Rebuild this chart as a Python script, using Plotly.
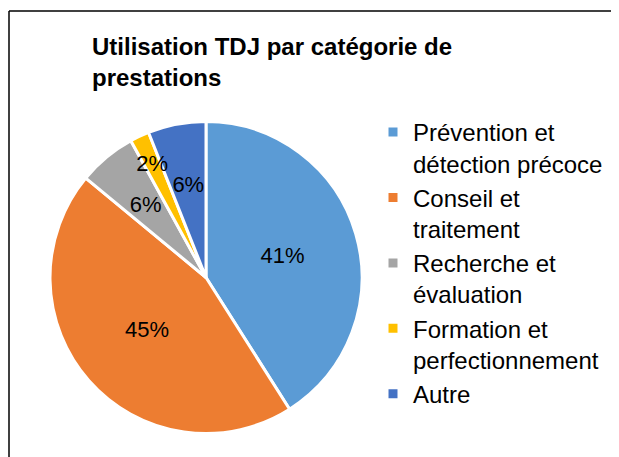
import plotly.graph_objects as go

categories = [
    "Prévention et<br>détection précoce",
    "Conseil et<br>traitement",
    "Recherche et<br>évaluation",
    "Formation et<br>perfectionnement",
    "Autre",
]
shares = [41, 45, 6, 2, 6]
colors = ["#5B9BD5", "#ED7D31", "#A5A5A5", "#FFC000", "#4472C4"]

# page body has an 8px margin, so the figure is drawn 8px smaller
W, H = 611, 449
font_family = "Liberation Sans"

# pie centre / radius in px
cx, cy, R = 198, 269.5, 156
# how far in the % label of each slice sits (radius of the helper pie)
label_scale = [1, 1, 0.72, 0.86, 0.72]


def dom(k):
    r = R * k
    return dict(x=[(cx - r) / W, (cx + r) / W], y=[1 - (cy + r) / H, 1 - (cy - r) / H])


fig = go.Figure()

fig.add_trace(go.Pie(
    labels=categories,
    values=shares,
    sort=False,
    direction="clockwise",
    rotation=0,
    marker=dict(colors=colors, line=dict(color="white", width=3)),
    texttemplate=["%{percent}" if k == 1 else "" for k in label_scale],
    textposition="inside",
    insidetextorientation="horizontal",
    textfont=dict(family=font_family, size=22, color="black"),
    domain=dom(1),
    hoverinfo="label+percent",
))

# transparent copies, only used to place the small-slice labels closer to the centre
for k in sorted(set(label_scale) - {1}):
    fig.add_trace(go.Pie(
        labels=categories,
        values=shares,
        sort=False,
        direction="clockwise",
        rotation=0,
        marker=dict(colors=["rgba(0,0,0,0)"] * len(shares), line=dict(width=0)),
        texttemplate=["%{percent}" if s == k else "" for s in label_scale],
        textposition="inside",
        insidetextorientation="horizontal",
        textfont=dict(family=font_family, size=22, color="black"),
        domain=dom(k),
        hoverinfo="skip",
        showlegend=False,
    ))

fig.update_layout(
    width=W,
    height=H,
    margin=dict(l=0, r=0, t=0, b=0),
    paper_bgcolor="white",
    font=dict(family=font_family, color="black"),
    uniformtext=dict(minsize=22, mode="show"),
    title=dict(
        text="<b>Utilisation TDJ par catégorie de<br>prestations</b>",
        font=dict(family=font_family, size=24, color="black"),
        x=84 / W,
        xanchor="left",
        xref="paper",
        y=1 - 47 / H,
        yanchor="top",
        yref="paper",
    ),
    legend=dict(
        x=365 / W,
        xanchor="left",
        y=1 - 102 / H,
        yanchor="top",
        valign="top",
        font=dict(family=font_family, size=24, color="black"),
        bgcolor="rgba(0,0,0,0)",
    ),
    shapes=[
        # chart frame: left and top edges only, the rest is cut off in the reference
        dict(type="line", xref="paper", yref="paper",
             x0=1 / W, x1=1 / W, y0=0, y1=1 - 3 / H,
             line=dict(color="black", width=1.5)),
        dict(type="line", xref="paper", yref="paper",
             x0=1 / W, x1=1, y0=1 - 3 / H, y1=1 - 3 / H,
             line=dict(color="black", width=1.5)),
    ],
)

fig.write_html("out.html", config={"displayModeBar": False})
